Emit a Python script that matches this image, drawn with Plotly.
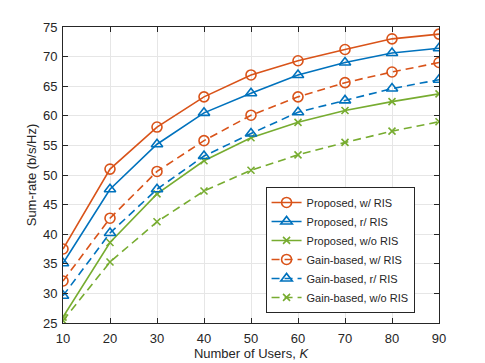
import plotly.graph_objects as go

# данные
users = [10, 20, 30, 40, 50, 60, 70, 80, 90]

prop_w_ris = [37.5, 51.0, 58.1, 63.2, 66.9, 69.3, 71.2, 73.0, 73.8]
prop_r_ris = [35.1, 47.6, 55.2, 60.5, 63.8, 66.9, 69.0, 70.6, 71.4]
prop_wo_ris = [26.0, 38.6, 46.8, 52.4, 56.3, 58.9, 60.9, 62.4, 63.7]
gain_w_ris = [32.1, 42.7, 50.6, 55.8, 60.1, 63.2, 65.6, 67.4, 69.0]
gain_r_ris = [29.6, 40.2, 47.6, 53.2, 57.0, 60.6, 62.6, 64.6, 66.1]
gain_wo_ris = [25.4, 35.3, 42.1, 47.3, 50.8, 53.4, 55.5, 57.4, 59.0]

x_ticks = [10, 20, 30, 40, 50, 60, 70, 80, 90]
y_ticks = [25, 30, 35, 40, 45, 50, 55, 60, 65, 70, 75]

orange = '#D95319'
blue = '#0072BD'
green = '#77AC30'

series = [
    ('Proposed, w/ RIS', prop_w_ris, orange, 'circle-open', 'solid'),
    ('Proposed, r/ RIS', prop_r_ris, blue, 'triangle-up-open', 'solid'),
    ('Proposed, w/o RIS', prop_wo_ris, green, 'x-thin-open', 'solid'),
    ('Gain-based, w/ RIS', gain_w_ris, orange, 'circle-open', '8px,5px'),
    ('Gain-based, r/ RIS', gain_r_ris, blue, 'triangle-up-open', '8px,5px'),
    ('Gain-based, w/o RIS', gain_wo_ris, green, 'x-thin-open', '8px,5px'),
]

fig = go.Figure()
for name, vals, col, sym, dash in series:
    fig.add_trace(go.Scatter(
        x=users, y=vals, name=name, mode='lines+markers',
        line=dict(color=col, width=1.6, dash=dash),
        marker=dict(symbol=sym, size=10 if 'x' not in sym else 7,
                    color=col, line=dict(color=col, width=1.6)),
    ))

axis_style = dict(
    showline=True, linecolor='#262626', linewidth=1, mirror='ticks',
    ticks='inside', ticklen=5, tickcolor='#262626',
    showgrid=True, gridcolor='#e6e6e6', gridwidth=1, zeroline=False,
    tickfont=dict(size=13, color='#262626'), automargin=False,
)

fig.update_xaxes(range=[10, 90], tickvals=x_ticks, ticklabelstandoff=3,
                 title=dict(text='Number of Users, <i>K</i>', font=dict(size=13, color='#262626'), standoff=2),
                 **axis_style)
fig.update_yaxes(range=[25, 75], tickvals=y_ticks, ticklabelstandoff=2,
                 title=dict(text='Sum-rate (b/s/Hz)', font=dict(size=13, color='#262626'), standoff=3),
                 **axis_style)

# страница имеет отступ 8px, поэтому фигура чуть меньше окна
fig.update_layout(
    width=477, height=355,
    margin=dict(l=55, r=46, t=19, b=40),
    paper_bgcolor='white', plot_bgcolor='white',
    font=dict(family='Liberation Sans, Arial, sans-serif', size=12, color='#262626'),
    legend=dict(x=0.935, y=0.034, xanchor='right', yanchor='bottom',
                bgcolor='white', bordercolor='#262626', borderwidth=1,
                font=dict(size=11), tracegroupgap=0, itemwidth=30),
    showlegend=True,
)

fig.write_html('out.html')
